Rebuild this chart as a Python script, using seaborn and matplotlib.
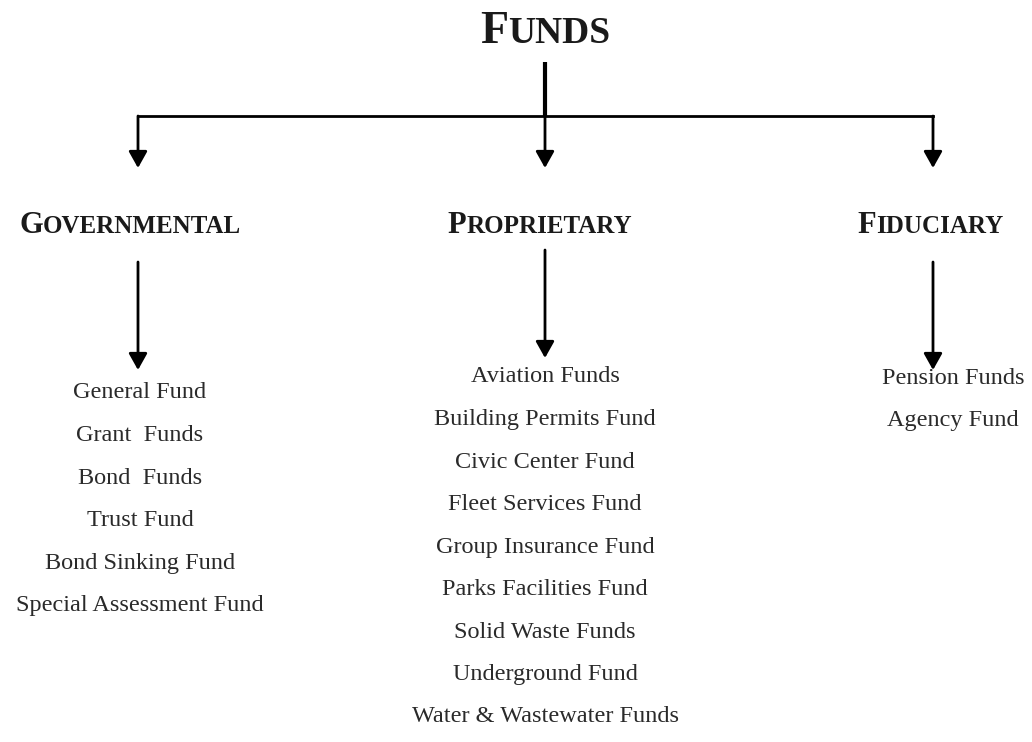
"""Funds hierarchy chart: Governmental / Proprietary / Fiduciary."""

import matplotlib

matplotlib.use("Agg")

import matplotlib.pyplot as plt
import seaborn as sns

ROOT = "Funds"
GROUPS = ["Governmental", "Proprietary", "Fiduciary"]
GOVERNMENTAL_FUNDS = [
    "General Fund",
    "Grant  Funds",
    "Bond  Funds",
    "Trust Fund",
    "Bond Sinking Fund",
    "Special Assessment Fund",
]
PROPRIETARY_FUNDS = [
    "Aviation Funds",
    "Building Permits Fund",
    "Civic Center Fund",
    "Fleet Services Fund",
    "Group Insurance Fund",
    "Parks Facilities Fund",
    "Solid Waste Funds",
    "Underground Fund",
    "Water & Wastewater Funds",
]
FIDUCIARY_FUNDS = ["Pension Funds", "Agency Fund"]

# layout (pixel space, y grows downward)
W, H = 1032, 742
ROOT_X = 545
GROUP_X = [138, 545, 933]
GROUP_LABEL_X = [130, 540, 930]
LIST_X = [140, 545, 953]
LIST_TOP = [393, 377, 378]
ROW_STEP = 42.5
FONT = "Liberation Serif"

sns.set_theme(style="white")
plt.rcParams["font.family"] = [FONT, "DejaVu Serif"]

fig = plt.figure(figsize=(W / 100, H / 100), dpi=100)
ax = fig.add_axes([0, 0, 1, 1])
ax.set_xlim(0, W)
ax.set_ylim(H, 0)
ax.axis("off")
renderer = fig.canvas.get_renderer()


def small_caps(x, y, word, big, small):
    """Draw a word in bold small caps centred on x, baseline at y."""
    first = ax.text(0, y, word[0].upper(), fontsize=big, fontweight="bold",
                    va="baseline", ha="left", color="#1a1a1a")
    rest = ax.text(0, y, word[1:].upper(), fontsize=small, fontweight="bold",
                   va="baseline", ha="left", color="#1a1a1a")
    w1 = first.get_window_extent(renderer).width
    w2 = rest.get_window_extent(renderer).width
    left = x - (w1 + w2) / 2
    first.set_x(left)
    rest.set_x(left + w1)


def arrow(x, y0, y1, lw=2.0):
    ax.annotate("", xy=(x, y1), xytext=(x, y0),
                arrowprops=dict(arrowstyle="-|>,head_length=0.5,head_width=0.28",
                                mutation_scale=20, lw=lw, color="black",
                                shrinkA=0, shrinkB=0))


small_caps(ROOT_X, 43, ROOT, 33, 27)

# connectors from root
ax.plot([ROOT_X, ROOT_X], [62, 117], color="black", lw=3.0, solid_capstyle="butt")
ax.plot([GROUP_X[0], GROUP_X[-1]], [116, 116], color="black", lw=2.0,
        solid_capstyle="projecting")
for gx in GROUP_X:
    arrow(gx, 116, 168)

# group headings and their arrows
arrow_spans = [(262, 370), (250, 358), (262, 370)]
for name, lx, gx, (a0, a1) in zip(GROUPS, GROUP_LABEL_X, GROUP_X, arrow_spans):
    small_caps(lx, 233, name, 22, 18)
    arrow(gx, a0, a1)

# fund lists
for items, lx, top in zip([GOVERNMENTAL_FUNDS, PROPRIETARY_FUNDS, FIDUCIARY_FUNDS],
                          LIST_X, LIST_TOP):
    for i, item in enumerate(items):
        ax.text(lx, top + i * ROW_STEP, item, fontsize=17.5, ha="center",
                va="center", color="#2a2a2a")

fig.savefig("out.png", dpi=100, facecolor="white")
plt.close(fig)
